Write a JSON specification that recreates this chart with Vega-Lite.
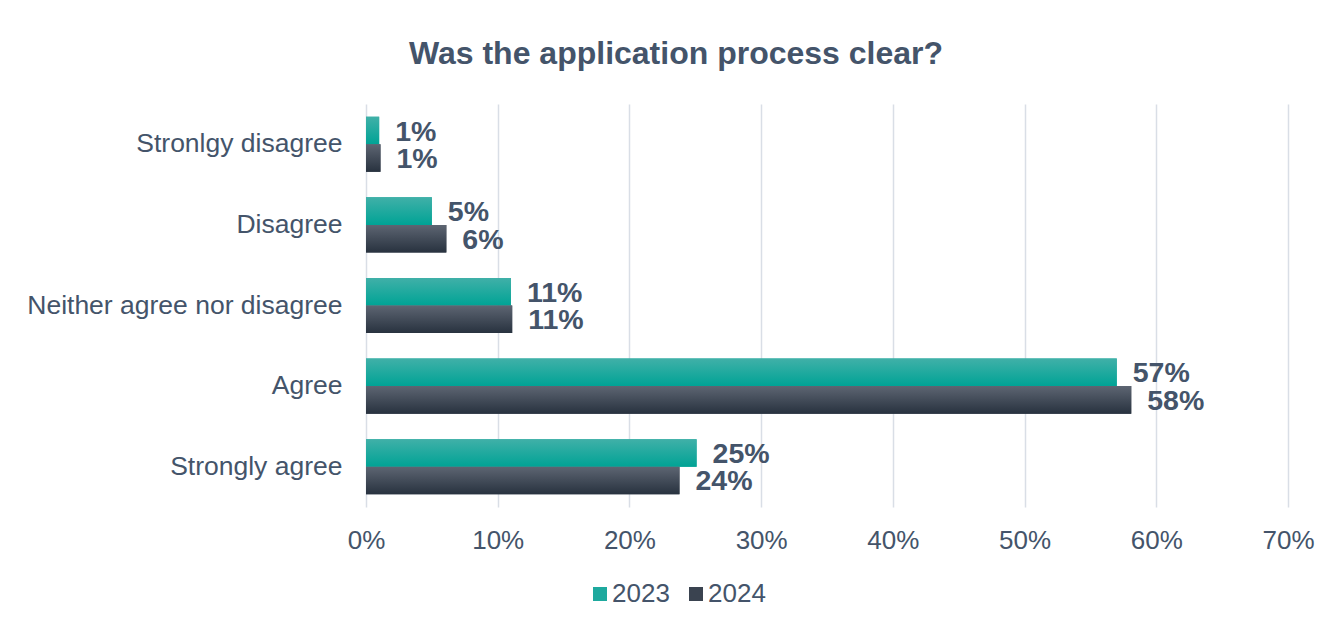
{
  "$schema": "https://vega.github.io/schema/vega-lite/v6.json",
  "autosize": {"type": "none"},
  "width": 922,
  "height": 403,
  "padding": {"left": 366, "top": 104, "right": 45, "bottom": 118},
  "background": "white",
  "title": {
    "text": "Was the application process clear?",
    "font": "Liberation Sans",
    "fontSize": 32,
    "fontWeight": "bold",
    "color": "#44546a",
    "anchor": "middle",
    "frame": "group",
    "dx": -151,
    "offset": 33
  },
  "data": {
    "values": [
      {"response": "Stronlgy disagree", "year": "2023", "share": 0.010},
      {"response": "Stronlgy disagree", "year": "2024", "share": 0.011},
      {"response": "Disagree", "year": "2023", "share": 0.050},
      {"response": "Disagree", "year": "2024", "share": 0.061},
      {"response": "Neither agree nor disagree", "year": "2023", "share": 0.110},
      {"response": "Neither agree nor disagree", "year": "2024", "share": 0.111},
      {"response": "Agree", "year": "2023", "share": 0.570},
      {"response": "Agree", "year": "2024", "share": 0.581},
      {"response": "Strongly agree", "year": "2023", "share": 0.251},
      {"response": "Strongly agree", "year": "2024", "share": 0.238}
    ]
  },
  "encoding": {
    "y": {
      "field": "response",
      "type": "nominal",
      "sort": ["Stronlgy disagree", "Disagree", "Neither agree nor disagree", "Agree", "Strongly agree"],
      "scale": {"paddingInner": 0.317, "paddingOuter": 0.158},
      "axis": {
        "title": null,
        "domain": false,
        "ticks": false,
        "labelFont": "Liberation Sans",
        "labelFontSize": 26.5,
        "labelColor": "#44546a",
        "labelPadding": 24,
        "labelLimit": 400
      }
    },
    "yOffset": {
      "field": "year",
      "type": "nominal",
      "scale": {"domain": ["2023", "2024"], "paddingInner": 0, "paddingOuter": 0}
    },
    "x": {
      "field": "share",
      "type": "quantitative",
      "scale": {"domain": [0, 0.7], "nice": false},
      "axis": {
        "title": null,
        "format": ".0%",
        "values": [0, 0.1, 0.2, 0.3, 0.4, 0.5, 0.6, 0.7],
        "domain": false,
        "ticks": false,
        "grid": true,
        "gridColor": "#d9dee6",
        "gridWidth": 1.5,
        "labelFlush": false,
        "labelFont": "Liberation Sans",
        "labelFontSize": 26,
        "labelColor": "#44546a",
        "labelPadding": 20
      }
    }
  },
  "layer": [
    {
      "mark": {"type": "bar"},
      "encoding": {
        "color": {
          "field": "year",
          "type": "nominal",
          "scale": {"domain": ["2023", "2024"], "range": ["#1ea99e", "#3a4350"]},
          "legend": {
            "title": null,
            "orient": "none",
            "direction": "horizontal",
            "legendX": 221,
            "legendY": 477,
            "symbolType": "square",
            "symbolSize": 196,
            "symbolStrokeWidth": 0,
            "labelFont": "Liberation Sans",
            "labelFontSize": 26,
            "labelColor": "#44546a",
            "labelOffset": -1,
            "columnPadding": 13
          }
        }
      }
    },
    {
      "mark": {"type": "bar"},
      "encoding": {
        "fill": {
          "condition": {
            "test": "datum.year === '2023'",
            "value": {
              "gradient": "linear", "x1": 0, "y1": 0, "x2": 0, "y2": 1,
              "stops": [{"offset": 0, "color": "#40b0a8"}, {"offset": 1, "color": "#00a395"}]
            }
          },
          "value": {
            "gradient": "linear", "x1": 0, "y1": 0, "x2": 0, "y2": 1,
            "stops": [{"offset": 0, "color": "#5d6572"}, {"offset": 1, "color": "#28323f"}]
          }
        }
      }
    },
    {
      "mark": {
        "type": "text",
        "align": "left",
        "baseline": "middle",
        "dx": 16,
        "dy": 1,
        "font": "Liberation Sans",
        "fontSize": 28.5,
        "fontWeight": "bold",
        "color": "#44546a"
      },
      "encoding": {
        "text": {"field": "share", "type": "quantitative", "format": ".0%"}
      }
    }
  ],
  "config": {
    "view": {"stroke": null}
  }
}
